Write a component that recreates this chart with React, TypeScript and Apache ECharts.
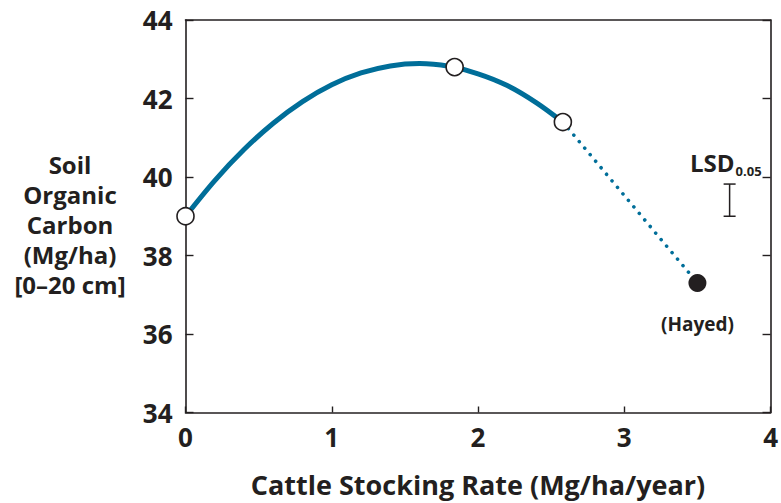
import React, { useEffect, useRef } from "react";
import * as echarts from "echarts";

const xTicks = [0, 1, 2, 3, 4];
const yTicks = [34, 36, 38, 40, 42, 44];
// Fitted curve (x, soil organic carbon)
const curveX = [0, 0.2, 0.4, 0.6, 0.8, 1.0, 1.2, 1.4, 1.6, 1.8, 2.0, 2.2, 2.4, 2.58];
const curveY = [39.0, 39.91, 40.7, 41.37, 41.92, 42.35, 42.65, 42.83, 42.89, 42.82, 42.63, 42.33, 41.89, 41.4];
// Measured grazed treatments (open circles)
const grazedX = [0, 1.84, 2.58];
const grazedY = [39.0, 42.8, 41.4];
// Hayed treatment (filled circle)
const hayedX = [3.5];
const hayedY = [37.3];
const hayedLabel = "(Hayed)";
// Dotted extrapolation from last grazed to hayed
const dottedX = [2.58, 3.5];
const dottedY = [41.4, 37.3];
// LSD bar
const lsdX = 3.72;
const lsdLow = 39.0;
const lsdHigh = 39.82;

const xTitle = "Cattle Stocking Rate (Mg/ha/year)";
const yTitleLines = ["Soil", "Organic", "Carbon", "(Mg/ha)", "[0–20 cm]"];

const INK = "#231f20";
const BLUE = "#006e99";
const FONT = "'Open Sans', 'Noto Sans', sans-serif";

export default function App() {
  const ref = useRef<HTMLDivElement>(null);
  useEffect(() => {
    if (!ref.current) return;
    const chart = echarts.init(ref.current, null, { renderer: "svg" });
    const axisLine = { show: true, onZero: false, lineStyle: { color: INK, width: 1.6 } };
    const option: any = {
      animation: false,
      backgroundColor: "#fff",
      grid: { left: 185.5, top: 20, width: 589.5, height: 392.5, containLabel: false },
      xAxis: [
        {
          type: "value",
          min: xTicks[0],
          max: xTicks[xTicks.length - 1],
          interval: 1,
          axisLine,
          axisTick: { show: true, inside: true, length: 6, lineStyle: { color: INK, width: 1.4 } },
          axisLabel: { color: INK, fontSize: 26, fontWeight: "bold", fontFamily: FONT, margin: 11 },
          splitLine: { show: false },
          name: xTitle,
          nameLocation: "middle",
          nameGap: 58,
          nameTextStyle: { color: INK, fontSize: 27, fontWeight: "bold", fontFamily: FONT },
        },
        {
          type: "value",
          position: "top",
          min: 0,
          max: 4,
          interval: 1,
          axisLine,
          axisTick: { show: false },
          axisLabel: { show: false },
          splitLine: { show: false },
        },
      ],
      yAxis: [
        {
          type: "value",
          min: yTicks[0],
          max: yTicks[yTicks.length - 1],
          interval: 2,
          axisLine,
          axisTick: { show: true, inside: true, length: 8, lineStyle: { color: INK, width: 1.4 } },
          axisLabel: { color: INK, fontSize: 26, fontWeight: "bold", fontFamily: FONT, margin: 13 },
          splitLine: { show: false },
        },
        {
          type: "value",
          position: "right",
          min: 34,
          max: 44,
          interval: 2,
          axisLine,
          axisTick: { show: true, inside: true, length: 8, lineStyle: { color: INK, width: 1.4 } },
          axisLabel: { show: false },
          splitLine: { show: false },
        },
      ],
      graphic: [
        {
          type: "text",
          x: 70,
          y: 224,
          style: {
            text: yTitleLines.join("\n"),
            fill: INK,
            font: `bold 24px ${FONT}`,
            lineHeight: 30,
            align: "center",
            verticalAlign: "middle",
          },
        },
      ],
      series: [
        {
          type: "line",
          data: dottedX.map((x, i) => [x, dottedY[i]]),
          showSymbol: false,
          symbol: "none",
          lineStyle: { color: BLUE, width: 3.6, type: [0.01, 8.5], cap: "round" },
          z: 2,
        },
        {
          type: "line",
          data: curveX.map((x, i) => [x, curveY[i]]),
          smooth: 0.3,
          showSymbol: false,
          symbol: "none",
          lineStyle: { color: BLUE, width: 5 },
          z: 3,
        },
        {
          type: "scatter",
          data: grazedX.map((x, i) => [x, grazedY[i]]),
          symbol: "circle",
          symbolSize: 17,
          itemStyle: { color: "#fff", borderColor: INK, borderWidth: 1.6, opacity: 1 },
          z: 5,
        },
        {
          type: "scatter",
          data: hayedX.map((x, i) => [x, hayedY[i]]),
          symbol: "circle",
          symbolSize: 18,
          itemStyle: { color: INK, opacity: 1 },
          label: {
            show: true,
            position: "bottom",
            distance: 23,
            formatter: hayedLabel,
            color: INK,
            fontSize: 19,
            fontWeight: "bold",
            fontFamily: FONT,
          },
          z: 5,
        },
        {
          type: "custom",
          data: [[lsdX, lsdLow, lsdHigh]],
          renderItem: (params: any, api: any) => {
            const top = api.coord([api.value(0), api.value(2)]);
            const bot = api.coord([api.value(0), api.value(1)]);
            const ls = { stroke: INK, lineWidth: 1.5 };
            return {
              type: "group",
              children: [
                { type: "line", shape: { x1: top[0], y1: top[1], x2: bot[0], y2: bot[1] }, style: ls },
                { type: "line", shape: { x1: top[0] - 6, y1: top[1], x2: top[0] + 6, y2: top[1] }, style: ls },
                { type: "line", shape: { x1: bot[0] - 6, y1: bot[1], x2: bot[0] + 6, y2: bot[1] }, style: ls },
                {
                  type: "text",
                  style: {
                    text: "LSD",
                    x: top[0] + 5,
                    y: top[1] - 10,
                    align: "right",
                    verticalAlign: "bottom",
                    fill: INK,
                    font: `bold 24px ${FONT}`,
                  },
                },
                {
                  type: "text",
                  style: {
                    text: "0.05",
                    x: top[0] + 6,
                    y: top[1] - 7,
                    align: "left",
                    verticalAlign: "bottom",
                    fill: INK,
                    font: `bold 13px ${FONT}`,
                  },
                },
              ],
            };
          },
          z: 4,
        },
      ],
    };
    chart.setOption(option);
    return () => chart.dispose();
  }, []);
  return (
    <div
      ref={ref}
      style={{ position: "absolute", left: 0, top: 0, width: 781, height: 503, overflow: "hidden" }}
    />
  );
}
